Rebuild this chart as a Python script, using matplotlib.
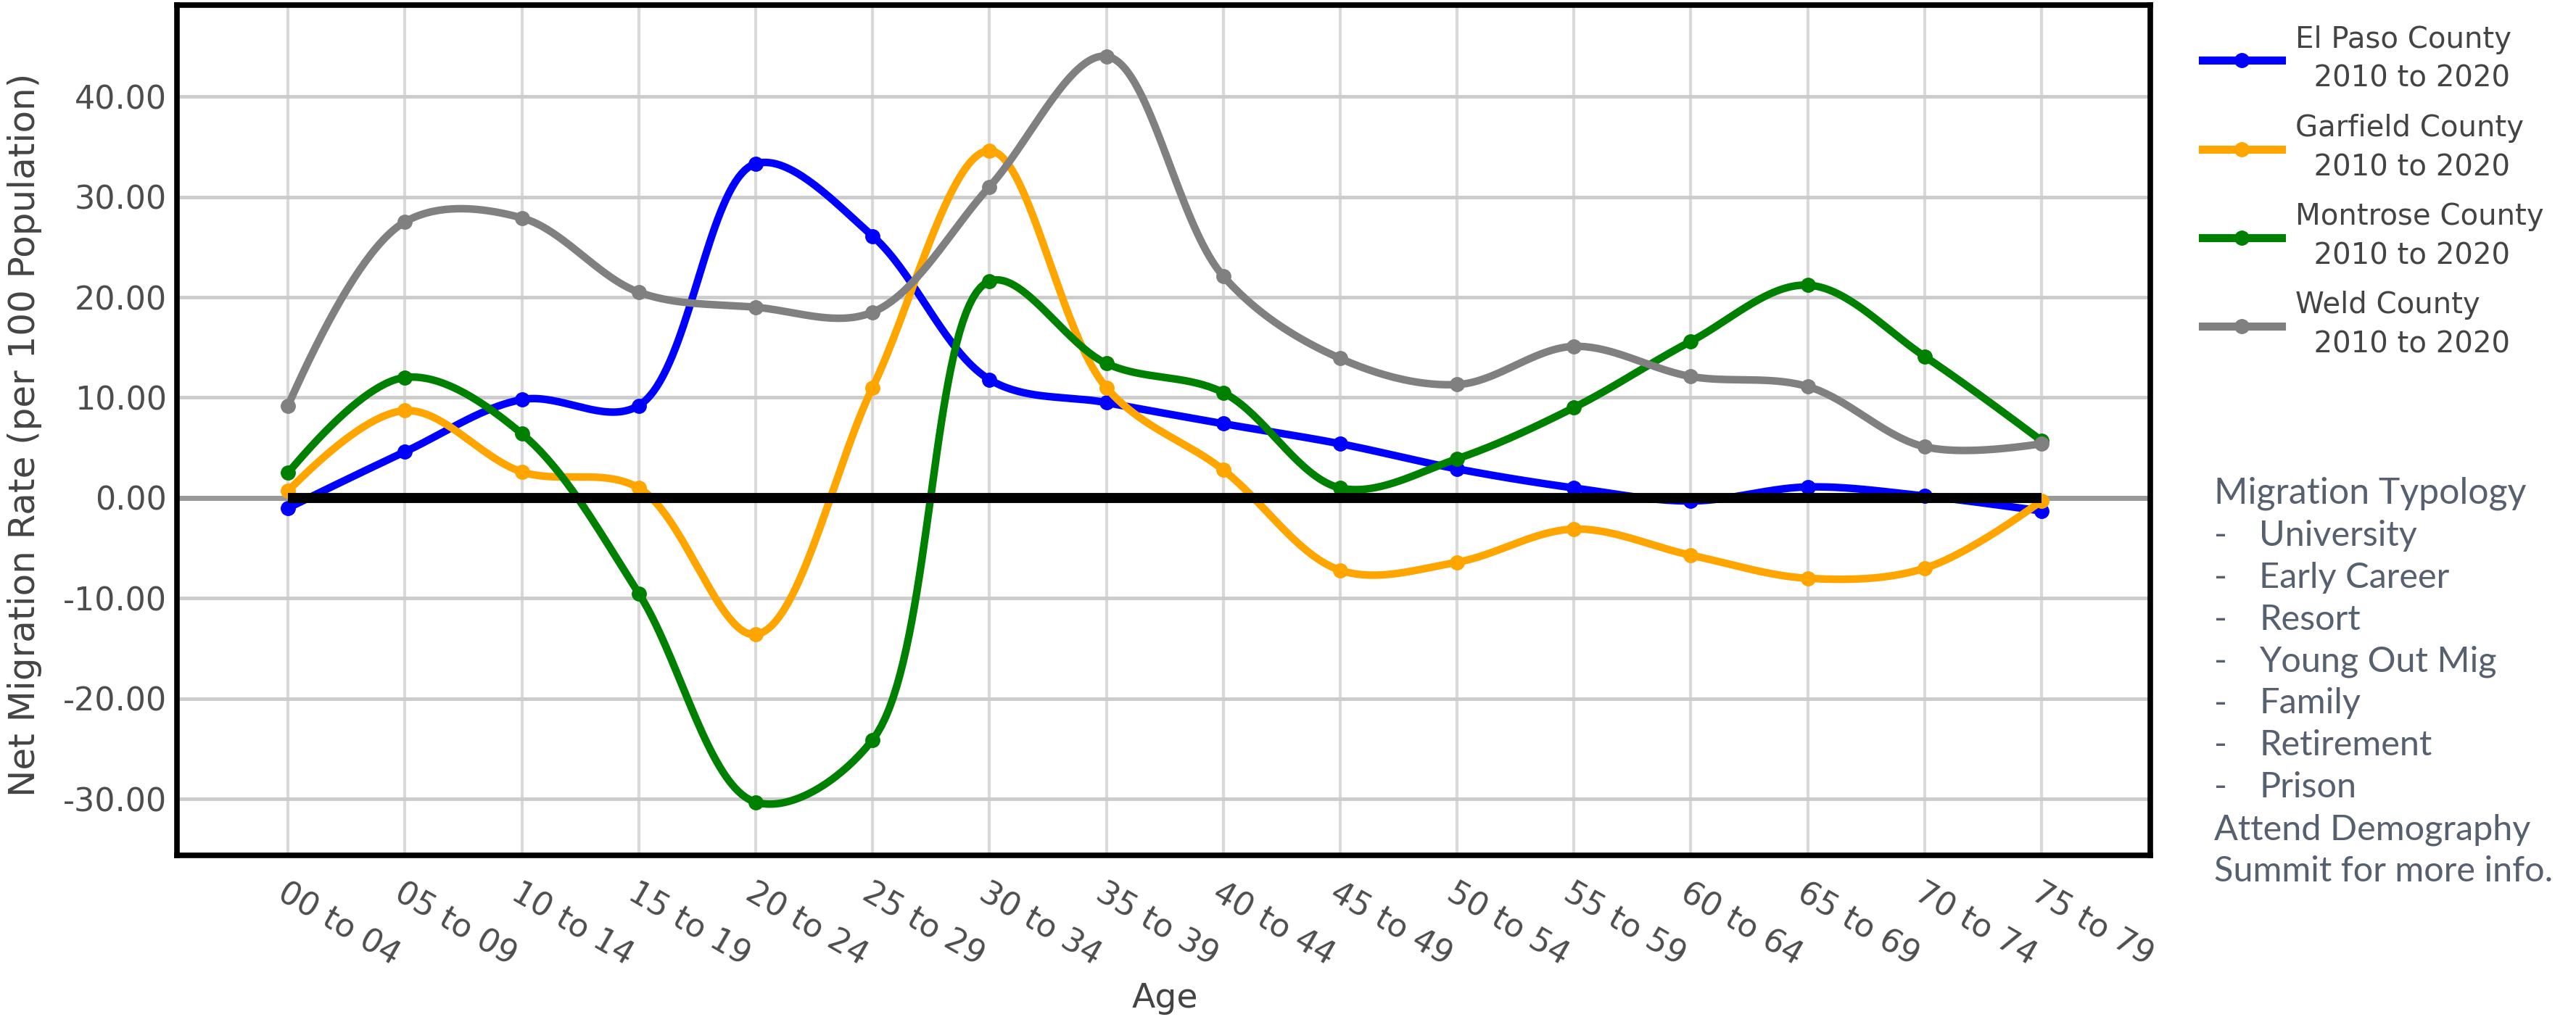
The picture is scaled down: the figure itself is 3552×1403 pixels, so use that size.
import numpy as np
import matplotlib
matplotlib.use('Agg')
import matplotlib.pyplot as plt
from matplotlib.lines import Line2D
from matplotlib.ticker import FuncFormatter

# data
ages = ['00 to 04', '05 to 09', '10 to 14', '15 to 19', '20 to 24', '25 to 29',
        '30 to 34', '35 to 39', '40 to 44', '45 to 49', '50 to 54', '55 to 59',
        '60 to 64', '65 to 69', '70 to 74', '75 to 79']
el_paso = [-1.0, 4.6, 9.8, 9.2, 33.3, 26.1, 11.8, 9.5, 7.4, 5.4, 2.9, 1.0, -0.3, 1.1, 0.2, -1.3]
garfield = [0.7, 8.7, 2.6, 1.0, -13.6, 11.0, 34.6, 11.0, 2.8, -7.2, -6.4, -3.1, -5.7, -8.0, -7.0, -0.3]
montrose = [2.5, 12.0, 6.4, -9.5, -30.3, -24.1, 21.6, 13.4, 10.5, 1.0, 3.9, 9.0, 15.6, 21.2, 14.1, 5.7]
weld = [9.2, 27.5, 27.9, 20.5, 19.0, 18.5, 31.0, 44.0, 22.1, 13.9, 11.3, 15.1, 12.1, 11.1, 5.1, 5.4]

series = [el_paso, garfield, montrose, weld]
names = ['El Paso County\n  2010 to 2020', 'Garfield County\n  2010 to 2020',
         'Montrose County\n  2010 to 2020', 'Weld County\n  2010 to 2020']
colors = ['#0000ff', '#ffa500', '#008000', '#808080']
typology = ['University', 'Early Career', 'Resort', 'Young Out Mig', 'Family', 'Retirement', 'Prison']


def spline(xs, ys, sx, sy, smooth=1.0, n=40):
    # plotly-like spline smoothing done in pixel space
    pts = np.column_stack([np.asarray(xs, float) * sx, np.asarray(ys, float) * sy])
    tang = []
    for i in range(1, len(pts) - 1):
        d1 = pts[i - 1] - pts[i]
        d2 = pts[i + 1] - pts[i]
        d1a = np.hypot(*d1) ** 0.5
        d2a = np.hypot(*d2) ** 0.5
        num = (d2a ** 2 * d1 - d1a ** 2 * d2) * smooth
        tang.append((pts[i] + num / (3 * d2a * (d1a + d2a)),
                     pts[i] - num / (3 * d1a * (d1a + d2a))))
    t = np.linspace(0, 1, n)[:, None]
    segs = [(1 - t) ** 2 * pts[0] + 2 * (1 - t) * t * tang[0][0] + t ** 2 * pts[1]]
    for i in range(2, len(pts) - 1):
        segs.append((1 - t) ** 3 * pts[i - 1] + 3 * (1 - t) ** 2 * t * tang[i - 2][1]
                    + 3 * (1 - t) * t ** 2 * tang[i - 1][0] + t ** 3 * pts[i])
    segs.append((1 - t) ** 2 * pts[-2] + 2 * (1 - t) * t * tang[-1][1] + t ** 2 * pts[-1])
    out = np.vstack(segs)
    return out[:, 0] / sx, out[:, 1] / sy


W, H, DPI = 3552, 1403, 100
fig = plt.figure(figsize=(W / DPI, H / DPI), dpi=DPI)
ax = fig.add_axes([244 / W, 1 - 1180 / H, (2965 - 244) / W, (1180 - 7) / H])
x = np.arange(len(ages))
ax.set_xlim(-0.95, 15.93)
ax.set_ylim(-35.6, 49.1)

sx = 161.1
sy = 13.85
for ys, c, name in zip(series, colors, names):
    cx, cy = spline(x, ys, sx, sy)
    ax.plot(cx, cy, color=c, lw=7.5, zorder=3, solid_capstyle='round')
    ax.plot(x, ys, 'o', color=c, ms=14, zorder=3)

ax.plot(x, np.zeros(len(ages)), color='black', lw=10, zorder=5, solid_capstyle='butt')
ax.axhline(0, color='#999999', lw=5, zorder=1)

ax.set_axisbelow(True)
ax.grid(axis='x', color='#d9d9d9', lw=3)
ax.grid(axis='y', color='#cccccc', lw=3.5)

ax.set_xticks(x)
ax.set_xticklabels(ages, rotation=-30, ha='left', va='top', rotation_mode='anchor')
ax.set_yticks(range(-30, 41, 10))
ax.yaxis.set_major_formatter(FuncFormatter(lambda v, p: '{:.2f}'.format(v)))
ax.tick_params(axis='y', length=0, pad=10, labelsize=32, labelcolor='#4d4d4d')
ax.tick_params(axis='x', length=0, pad=22, labelsize=32, labelcolor='#4d4d4d')
for s in ax.spines.values():
    s.set_linewidth(5.5)
    s.set_color('black')

fig.text(34 / W, 1 - 600 / H, 'Net Migration Rate (per 100 Population)', rotation=90,
         ha='center', va='center', fontsize=36, color='#444444')
fig.text(1606 / W, 1 - 1378 / H, 'Age', ha='center', va='center', fontsize=34, color='#444444')

handles = [Line2D([], [], color=c, lw=8, marker='o', ms=14) for c in colors]
leg = fig.legend(handles, names, loc='upper left', bbox_to_anchor=(3037 / W, 1 - 35 / H),
                 frameon=False, fontsize=29, labelcolor='#444444', handlelength=2.7,
                 handletextpad=0.47, labelspacing=0.7, borderpad=0, borderaxespad=0)
for t in leg.get_texts():
    t.set_linespacing(1.45)

tcol = '#56606e'
tfont = 'Lato'
tsize = 35
base = 695
step = 57.9
fig.text(3053 / W, 1 - base / H, 'Migration Typology', fontsize=tsize + 1, color=tcol,
         family=tfont, va='baseline')
for i, item in enumerate(typology):
    yy = 1 - (base + step * (i + 1)) / H
    fig.text(3053 / W, yy, '-', fontsize=tsize, color=tcol, family=tfont, va='baseline')
    fig.text(3115 / W, yy, item, fontsize=tsize, color=tcol, family=tfont, va='baseline')
fig.text(3053 / W, 1 - (base + step * 8) / H, 'Attend Demography', fontsize=tsize,
         color=tcol, family=tfont, va='baseline')
fig.text(3053 / W, 1 - (base + step * 9) / H, 'Summit for more info.', fontsize=tsize,
         color=tcol, family=tfont, va='baseline')

fig.savefig('out.png', dpi=DPI)
